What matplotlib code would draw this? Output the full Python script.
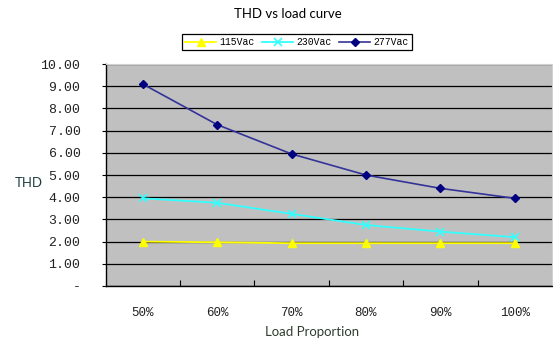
import matplotlib
matplotlib.use("Agg")
import matplotlib.pyplot as plt
from matplotlib.ticker import FixedLocator, FuncFormatter

# ==========================================
# DATA
# ==========================================
LOADS = ["50%", "60%", "70%", "80%", "90%", "100%"]
THD_115 = [2.00, 1.97, 1.93, 1.93, 1.93, 1.93]
THD_230 = [3.95, 3.75, 3.25, 2.75, 2.45, 2.20]
THD_277 = [9.10, 7.27, 5.95, 5.00, 4.40, 3.95]
SERIES_NAMES = ["115Vac", "230Vac", "277Vac"]
# ==========================================

TICK_FONT = "Liberation Mono"
LABEL_FONT = "Lato"


def fmt_y(v, pos):
    # accounting style: zero shows as a dash
    if abs(v) < 1e-9:
        return "-"
    return f"{v:.2f}"


def main():
    fig = plt.figure(figsize=(5.53, 3.42), dpi=100)
    fig.patch.set_facecolor("white")
    ax = fig.add_axes([0.1908, 0.1637, 0.8074, 0.649])
    ax.set_facecolor("#C0C0C0")

    x = list(range(len(LOADS)))
    ax.plot(x, THD_115, color="#FFFF00", lw=1.3, marker="^", ms=6,
            mfc="#FFFF00", mec="#FFFF00", label=SERIES_NAMES[0], zorder=3)
    ax.plot(x, THD_230, color="#33FFFF", lw=1.3, marker="x", ms=6,
            mew=1.2, label=SERIES_NAMES[1], zorder=3)
    ax.plot(x, THD_277, color="#333399", lw=1.2, marker="D", ms=4.5,
            mfc="#000080", mec="#000080", label=SERIES_NAMES[2], zorder=3)

    ax.set_xlim(-0.5, len(LOADS) - 0.5)
    ax.set_ylim(0, 10)
    ax.yaxis.set_major_locator(FixedLocator([i for i in range(11)]))
    ax.yaxis.set_major_formatter(FuncFormatter(fmt_y))
    ax.grid(axis="y", color="black", lw=0.9)
    ax.set_axisbelow(True)

    # category ticks sit between the groups, labels sit on the groups
    ax.xaxis.set_major_locator(FixedLocator([i + 0.5 for i in x[:-1]]))
    ax.xaxis.set_major_formatter(FuncFormatter(lambda v, p: ""))
    ax.set_xticks(x, minor=True)
    ax.set_xticklabels(LOADS, minor=True)
    ax.tick_params(axis="x", which="major", direction="in", length=4, width=0.8)
    ax.tick_params(axis="x", which="minor", length=0, pad=15,
                   labelsize=9)
    ax.tick_params(axis="y", direction="out", length=3, width=0.8,
                   pad=15, labelsize=9.5)
    for lab in ax.get_xticklabels(minor=True) + ax.get_yticklabels():
        lab.set_family(TICK_FONT)
        lab.set_color("#222222")

    for side in ["left", "bottom"]:
        ax.spines[side].set_color("black")
        ax.spines[side].set_linewidth(1.0)
    for side in ["top", "right"]:
        ax.spines[side].set_color("#D0D0D0")
        ax.spines[side].set_linewidth(0.8)

    fig.text(0.52, 0.959, "THD vs load curve", ha="center", va="center",
             family=LABEL_FONT, fontsize=9.5)
    fig.text(0.052, 0.465, "THD", ha="center", va="center",
             family=LABEL_FONT, fontsize=9.5, color="#1F3F3F")
    fig.text(0.564, 0.03, "Load Proportion", ha="center", va="center",
             family=LABEL_FONT, fontsize=9.5, color="#2F3F2F")

    leg = fig.legend(loc="center", bbox_to_anchor=(0.537, 0.877), ncol=3,
                     frameon=True, fancybox=False, framealpha=1,
                     edgecolor="black", prop={"family": TICK_FONT, "size": 7},
                     handlelength=3.2, handletextpad=0.3, columnspacing=0.8,
                     borderpad=0.35)
    leg.get_frame().set_linewidth(0.9)

    fig.savefig("out.png", dpi=100)


if __name__ == "__main__":
    main()
